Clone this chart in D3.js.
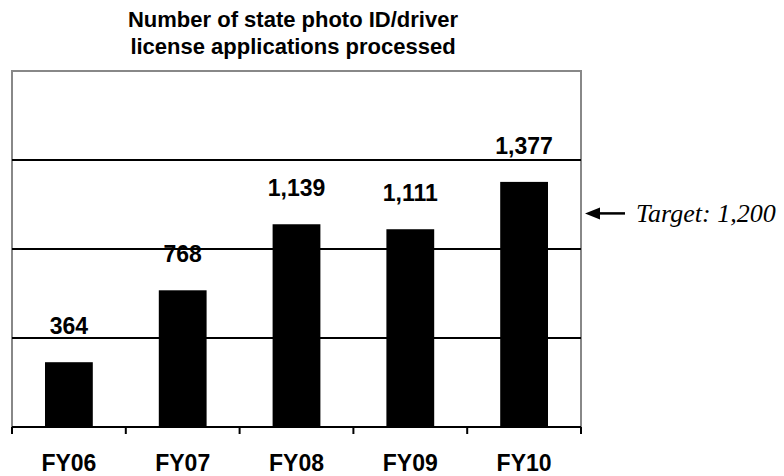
<!DOCTYPE html>
<html lang="en">
<head>
<meta charset="UTF-8">
<title>State photo ID applications</title>
<script src="https://d3js.org/d3.v7.min.js"></script>
<style>
  body { margin: 0; background: #fff; }
  svg { display: block; }
</style>
</head>
<body>
<svg id="chart" width="784" height="476"></svg>
<script>
// data
const years = ["FY06", "FY07", "FY08", "FY09", "FY10"];
const applications = [364, 768, 1139, 1111, 1377];
const gridValues = [500, 1000, 1500];
const targetValue = 1200;
const titleLines = ["Number of state photo ID/driver", "license applications processed"];

const svg = d3.select("#chart");
const plotLeft = 12, plotRight = 581, plotTop = 71, plotBottom = 427;

const x = d3.scaleBand().domain(years).range([plotLeft, plotRight]).paddingInner(0.58).paddingOuter(0.29);
const y = d3.scaleLinear().domain([0, 2000]).range([plotBottom, plotTop]);

// title
svg.append("g").selectAll("text")
  .data(titleLines)
  .enter().append("text")
  .attr("x", 293)
  .attr("y", (d, i) => 27 + i * 27)
  .attr("text-anchor", "middle")
  .style("font", "bold 22px 'Liberation Sans', Arial, sans-serif")
  .text(d => d);

// plot frame
svg.append("rect")
  .attr("x", plotLeft).attr("y", plotTop)
  .attr("width", plotRight - plotLeft).attr("height", plotBottom - plotTop)
  .attr("fill", "none").attr("stroke", "#888").attr("stroke-width", 2);

// gridlines
svg.append("g").selectAll("line")
  .data(gridValues)
  .enter().append("line")
  .attr("x1", plotLeft).attr("x2", plotRight)
  .attr("y1", d => y(d)).attr("y2", d => y(d))
  .attr("stroke", "#000").attr("stroke-width", 2);

// bars
svg.append("g").selectAll("rect")
  .data(applications)
  .enter().append("rect")
  .attr("x", (d, i) => x(years[i]))
  .attr("y", d => y(d))
  .attr("width", x.bandwidth())
  .attr("height", d => plotBottom - y(d))
  .attr("fill", "#000");

// value labels
svg.append("g").selectAll("text")
  .data(applications)
  .enter().append("text")
  .attr("x", (d, i) => x(years[i]) + x.bandwidth() / 2)
  .attr("y", d => y(d) - 28)
  .attr("text-anchor", "middle")
  .style("font", "bold 23px 'Liberation Sans', Arial, sans-serif")
  .text(d => d3.format(",")(d));

// x axis
const xTicks = d3.scalePoint().domain(d3.range(years.length + 1)).range([plotLeft, plotRight]);
const axis = svg.append("g");
axis.append("line")
  .attr("x1", plotLeft).attr("x2", plotRight)
  .attr("y1", plotBottom).attr("y2", plotBottom)
  .attr("stroke", "#000").attr("stroke-width", 2);
axis.selectAll(".tick")
  .data(xTicks.domain())
  .enter().append("line")
  .attr("class", "tick")
  .attr("x1", d => xTicks(d)).attr("x2", d => xTicks(d))
  .attr("y1", plotBottom).attr("y2", plotBottom + 7)
  .attr("stroke", "#000").attr("stroke-width", 2);
axis.selectAll("text")
  .data(years)
  .enter().append("text")
  .attr("x", d => x(d) + x.bandwidth() / 2)
  .attr("y", 471)
  .attr("text-anchor", "middle")
  .style("font", "bold 23px 'Liberation Sans', Arial, sans-serif")
  .text(d => d);

// target annotation
const ty = y(targetValue);
svg.append("path")
  .attr("d", `M585,${ty} L600,${ty - 6} L600,${ty + 6} Z`)
  .attr("fill", "#000");
svg.append("line")
  .attr("x1", 598).attr("x2", 625)
  .attr("y1", ty).attr("y2", ty)
  .attr("stroke", "#000").attr("stroke-width", 2.5);
svg.append("text")
  .attr("x", 636).attr("y", ty + 9)
  .style("font", "italic 26px 'Liberation Serif', 'Times New Roman', serif")
  .text("Target: " + d3.format(",")(targetValue));
</script>
</body>
</html>
